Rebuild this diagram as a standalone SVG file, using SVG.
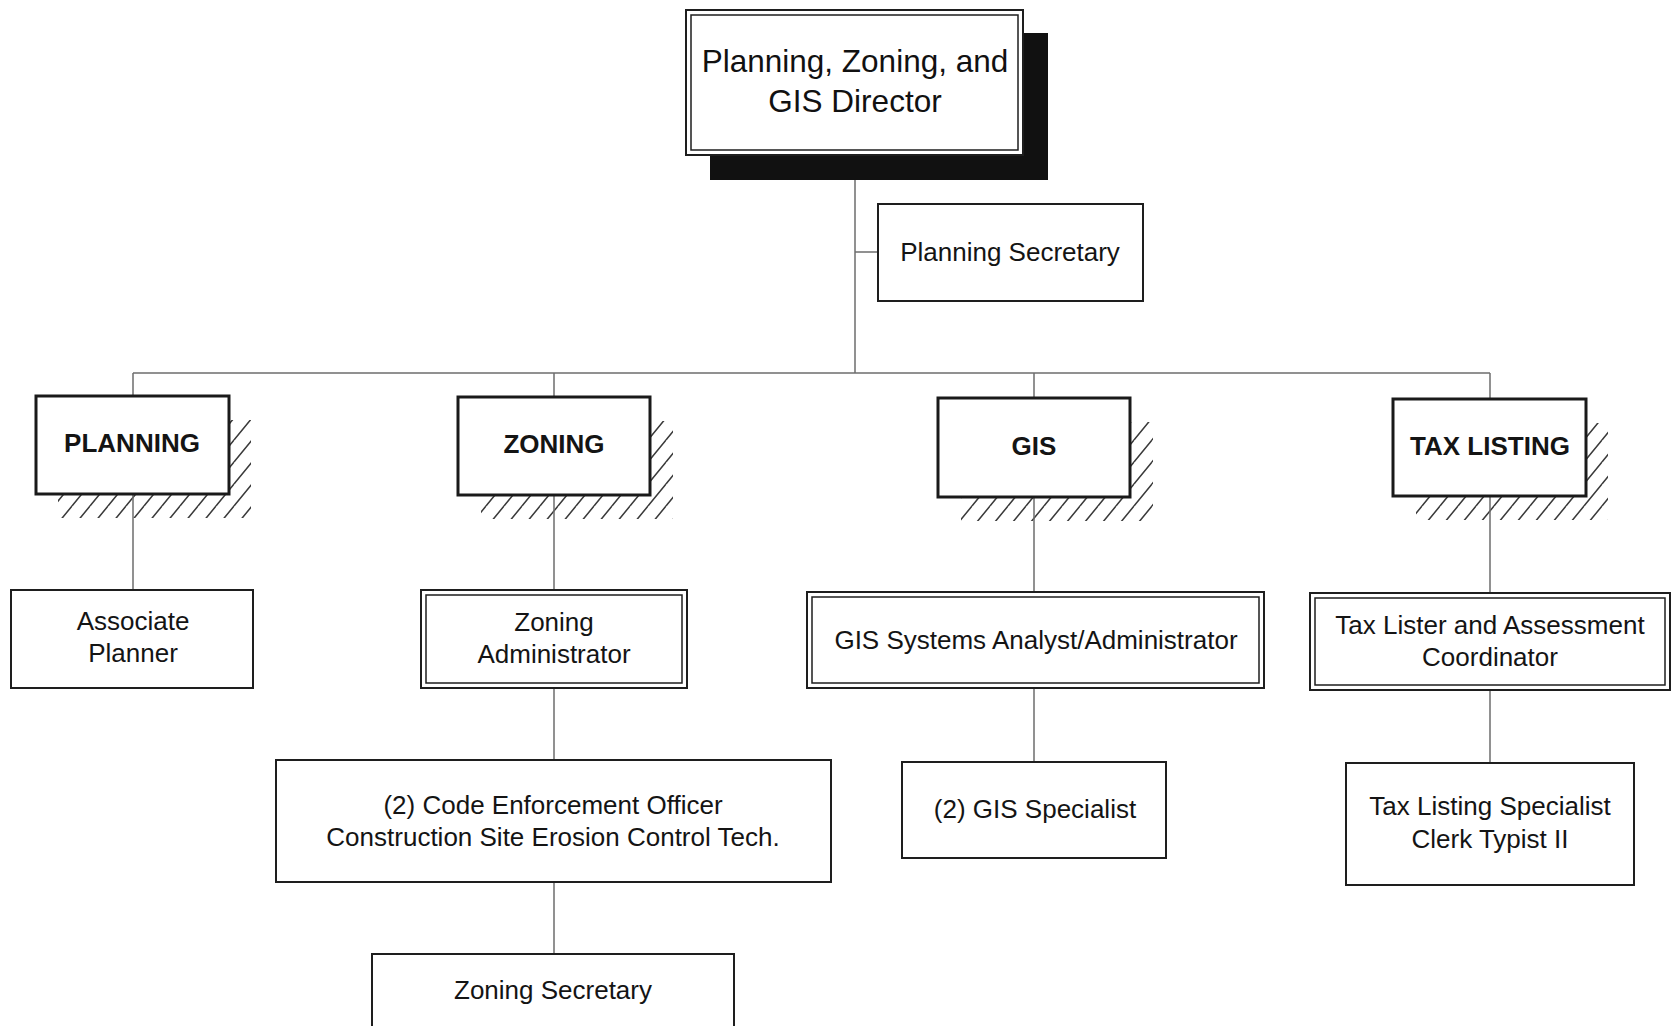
<svg xmlns="http://www.w3.org/2000/svg" width="1672" height="1026" viewBox="0 0 1672 1026">
<style>
.bx{fill:#fff;stroke:#1e1e1e;stroke-width:2}
.in{fill:none;stroke:#1e1e1e;stroke-width:1.5}
.hd{fill:#fff;stroke:#1a1a1a;stroke-width:3}
.t{font-family:"Liberation Sans",Arial,sans-serif;font-size:26px;fill:#141414;text-anchor:middle}
.b{font-family:"Liberation Sans",Arial,sans-serif;font-size:26px;font-weight:bold;fill:#141414;text-anchor:middle}
.d{font-family:"Liberation Sans",Arial,sans-serif;font-size:31.5px;fill:#111;text-anchor:middle}
.c{fill:none;stroke:#6e6e6e;stroke-width:1.5}
.h{fill:url(#hatch)}
</style>
<defs>
<pattern id="hatch" patternUnits="userSpaceOnUse" width="18" height="22">
<path d="M-9,11 L0,0 M0,22 L18,0 M9,33 L27,11" stroke="#3a3a3a" stroke-width="1.5"/>
</pattern>
</defs>
<rect width="1672" height="1026" fill="#fff"/>

<g id="hatches">
<path class="h" d="M229,420 H251 V518 H58 V494 H229 Z"/>
<path class="h" d="M650,421 H673 V519 H481 V495 H650 Z"/>
<path class="h" d="M1130,422 H1153 V521 H961 V497 H1130 Z"/>
<path class="h" d="M1586,423 H1608 V520 H1416 V496 H1586 Z"/>
</g>

<g id="connectors">
<path class="c" d="M855,155 V373 M855,252 H878 M133,373 H1490"/>
<path class="c" d="M133,373 V396 M133,494 V590"/>
<path class="c" d="M554,373 V397 M554,495 V590 M554,688 V760 M554,882 V954"/>
<path class="c" d="M1034,373 V398 M1034,497 V592 M1034,688 V761"/>
<path class="c" d="M1490,373 V399 M1490,496 V593 M1490,690 V763"/>
</g>

<g id="director">
<rect x="710" y="33" width="338" height="147" fill="#111"/>
<rect class="bx" x="686" y="10" width="337" height="145"/>
<rect class="in" x="691" y="15" width="327" height="135"/>
<text class="d" x="855" y="72">Planning, Zoning, and</text>
<text class="d" x="855" y="112">GIS Director</text>
</g>

<g id="planning-secretary">
<rect class="bx" x="878" y="204" width="265" height="97"/>
<text class="t" x="1010" y="261">Planning Secretary</text>
</g>

<g id="planning">
<rect class="hd" x="36" y="396" width="193" height="98"/>
<text class="b" x="132" y="452">PLANNING</text>
</g>
<g id="zoning">
<rect class="hd" x="458" y="397" width="192" height="98"/>
<text class="b" x="554" y="453">ZONING</text>
</g>
<g id="gis">
<rect class="hd" x="938" y="398" width="192" height="99"/>
<text class="b" x="1034" y="455">GIS</text>
</g>
<g id="tax-listing">
<rect class="hd" x="1393" y="399" width="193" height="97"/>
<text class="b" x="1490" y="455">TAX LISTING</text>
</g>

<g id="associate-planner">
<rect class="bx" x="11" y="590" width="242" height="98"/>
<text class="t" x="133" y="630">Associate</text>
<text class="t" x="133" y="662">Planner</text>
</g>

<g id="zoning-administrator">
<rect class="bx" x="421" y="590" width="266" height="98"/>
<rect class="in" x="426" y="595" width="256" height="88"/>
<text class="t" x="554" y="631">Zoning</text>
<text class="t" x="554" y="663">Administrator</text>
</g>

<g id="gis-analyst">
<rect class="bx" x="807" y="592" width="457" height="96"/>
<rect class="in" x="812" y="597" width="447" height="86"/>
<text class="t" x="1036" y="649">GIS Systems Analyst/Administrator</text>
</g>

<g id="tax-lister">
<rect class="bx" x="1310" y="593" width="360" height="97"/>
<rect class="in" x="1315" y="598" width="350" height="87"/>
<text class="t" x="1490" y="634">Tax Lister and Assessment</text>
<text class="t" x="1490" y="666">Coordinator</text>
</g>

<g id="code-enforcement">
<rect class="bx" x="276" y="760" width="555" height="122"/>
<text class="t" x="553" y="814">(2) Code Enforcement Officer</text>
<text class="t" x="553" y="846">Construction Site Erosion Control Tech.</text>
</g>

<g id="zoning-secretary">
<rect class="bx" x="372" y="954" width="362" height="90"/>
<text class="t" x="553" y="999">Zoning Secretary</text>
</g>

<g id="gis-specialist">
<rect class="bx" x="902" y="762" width="264" height="96"/>
<text class="t" x="1035" y="818">(2) GIS Specialist</text>
</g>

<g id="tax-specialist">
<rect class="bx" x="1346" y="763" width="288" height="122"/>
<text class="t" x="1490" y="815">Tax Listing Specialist</text>
<text class="t" x="1490" y="848">Clerk Typist II</text>
</g>
</svg>
